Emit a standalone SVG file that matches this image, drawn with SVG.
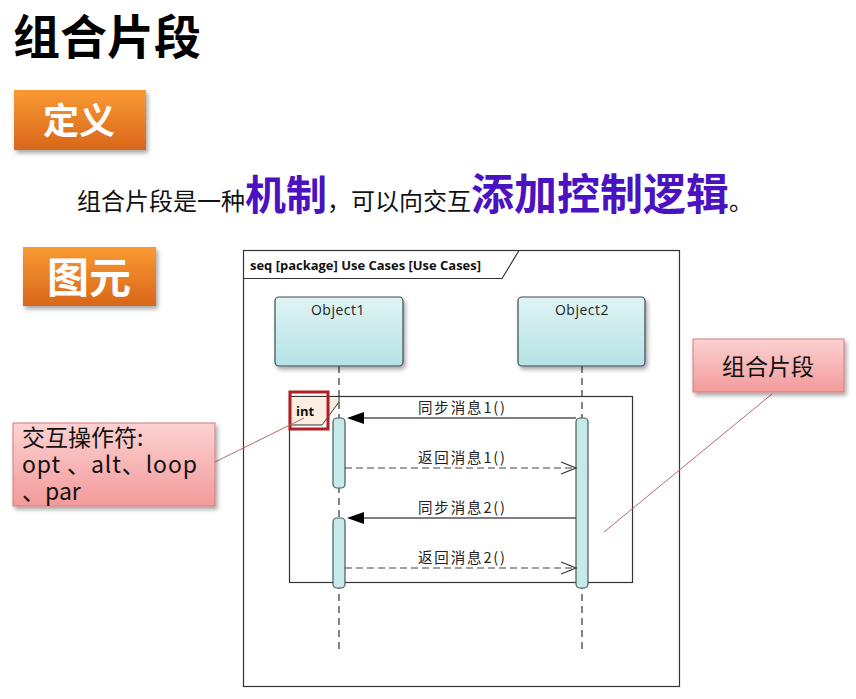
<svg xmlns="http://www.w3.org/2000/svg" width="856" height="699" viewBox="0 0 856 699">
<style>
.cjk{font-family:"Noto Sans CJK SC","Noto Sans",sans-serif}
.lbl{font-family:"Open Sans","Noto Sans CJK SC",sans-serif;font-size:14px;fill:#222;letter-spacing:0.6px}
.msg{font-family:"Noto Sans CJK SC","Open Sans",sans-serif;font-size:14.5px;fill:#222}
.life{stroke:#333;stroke-width:1.2;stroke-dasharray:7,5;fill:none}
.act{fill:#c6e9ea;stroke:#4a5a5a;stroke-width:1.2}
.sync{stroke:#555;stroke-width:1.5;fill:none}
.ret{stroke:#444;stroke-width:1.2;stroke-dasharray:7,4;fill:none}
.obj{fill:url(#gObj);stroke:#3c4a55;stroke-width:1.2}
.call{fill:url(#gPink);stroke:#d87b7b;stroke-width:1}
.lead{stroke:#b56a6a;stroke-width:1;fill:none}
</style>
<defs>
<linearGradient id="gOrange" x1="0" y1="0" x2="0" y2="1">
<stop offset="0" stop-color="#f99a33"/><stop offset="1" stop-color="#d9661b"/>
</linearGradient>
<linearGradient id="gObj" x1="0" y1="0" x2="0" y2="1">
<stop offset="0" stop-color="#e0f4f4"/><stop offset="1" stop-color="#b5e2e5"/>
</linearGradient>
<linearGradient id="gPink" x1="0" y1="0" x2="0" y2="1">
<stop offset="0" stop-color="#fcd2d2"/><stop offset="1" stop-color="#f39a9a"/>
</linearGradient>
<filter id="sh" x="-10%" y="-10%" width="130%" height="140%">
<feDropShadow dx="2" dy="3" stdDeviation="2" flood-color="#000" flood-opacity="0.35"/>
</filter>
<marker id="open" markerWidth="18" markerHeight="14" refX="16" refY="7" orient="auto" markerUnits="userSpaceOnUse">
<path d="M1,1 L16,7 L1,13" fill="none" stroke="#333" stroke-width="1.2"/>
</marker>
</defs>
<rect width="856" height="699" fill="#fff"/>

<g id="title">
<text x="13" y="54" class="cjk" font-size="47" font-weight="bold" fill="#000">组合片段</text>
</g>

<g id="def-badge">
<rect x="14" y="90" width="132" height="60" fill="url(#gOrange)" filter="url(#sh)"/>
<text x="79" y="134" class="cjk" font-size="36" font-weight="bold" fill="#fff" text-anchor="middle">定义</text>
</g>

<g id="definition">
<text y="210" class="cjk" font-size="24" fill="#111"><tspan x="77">组合片段是一种</tspan><tspan font-size="41" font-weight="bold" fill="#4a12c0">机制</tspan><tspan>，可以向交互</tspan><tspan font-size="43" font-weight="bold" fill="#4a12c0">添加控制逻辑</tspan><tspan>。</tspan></text>
</g>

<g id="elem-badge">
<rect x="23" y="247" width="133" height="59" fill="url(#gOrange)" filter="url(#sh)"/>
<text x="89" y="293" class="cjk" font-size="42" font-weight="bold" fill="#fff" text-anchor="middle">图元</text>
</g>

<g id="frame">
<rect x="243.5" y="250.5" width="436" height="436" fill="#fff" stroke="#333" stroke-width="1.2"/>
<path d="M243.5,278.5 H502 L519,250.5" fill="none" stroke="#333" stroke-width="1.2"/>
<text x="250" y="270" font-family="Open Sans,Noto Sans,sans-serif" font-size="12.5" font-weight="bold" fill="#111" textLength="231" lengthAdjust="spacingAndGlyphs">seq [package] Use Cases [Use Cases]</text>
</g>

<g id="lifelines">
<line class="life" x1="339" y1="366" x2="339" y2="654"/>
<line class="life" x1="582" y1="366" x2="582" y2="654"/>
</g>

<g id="object1">
<rect class="obj" x="275" y="297" width="128" height="69" rx="4" filter="url(#sh)"/>
<text class="lbl" x="311" y="315" textLength="54">Object1</text>
</g>
<g id="object2">
<rect class="obj" x="518" y="297" width="127" height="69" rx="4" filter="url(#sh)"/>
<text class="lbl" x="555" y="315" textLength="54">Object2</text>
</g>

<g id="fragment">
<rect x="289.5" y="396.5" width="343" height="186" fill="none" stroke="#333" stroke-width="1.2"/>
<path d="M289.5,396.5 H339 V402 L322,425 H289.5 Z" fill="#fbeee0" stroke="#333" stroke-width="1"/>
<text x="296" y="416" font-family="Open Sans,Noto Sans,sans-serif" font-size="13" font-weight="bold" fill="#111">int</text>
<rect x="290" y="392" width="38" height="37" fill="none" stroke="#b01e22" stroke-width="3"/>
</g>

<g id="activations">
<rect class="act" x="333" y="418" width="12" height="70" rx="4"/>
<rect class="act" x="333" y="518" width="12" height="70" rx="4"/>
<rect class="act" x="576" y="418" width="12" height="170" rx="4"/>
</g>

<g id="connectors">
<line class="sync" x1="576" y1="418" x2="364" y2="418"/>
<path d="M347,418 L364,412 L364,424 Z" fill="#000"/>
<line class="ret" x1="345" y1="468" x2="576" y2="468" marker-end="url(#open)"/>
<line class="sync" x1="576" y1="518" x2="364" y2="518"/>
<path d="M347,518 L364,512 L364,524 Z" fill="#000"/>
<line class="ret" x1="345" y1="568" x2="576" y2="568" marker-end="url(#open)"/>
<text class="msg" x="418" y="413" textLength="87">同步消息1()</text>
<text class="msg" x="418" y="463" textLength="87">返回消息1()</text>
<text class="msg" x="418" y="513" textLength="87">同步消息2()</text>
<text class="msg" x="418" y="563" textLength="87">返回消息2()</text>
<line class="lead" x1="215" y1="462" x2="304" y2="418"/>
<line class="lead" x1="772" y1="394" x2="604" y2="532"/>
</g>

<g id="callout-operator">
<rect class="call" x="13" y="423" width="202" height="83" filter="url(#sh)"/>
<text class="cjk" font-size="23" fill="#111"><tspan x="22" y="446">交互操作符:</tspan><tspan x="22" y="473" textLength="175">opt 、alt、loop</tspan><tspan x="22" y="500">、par</tspan></text>
</g>

<g id="callout-fragment">
<rect class="call" x="693" y="339" width="151" height="53" filter="url(#sh)"/>
<text class="cjk" x="768" y="375" font-size="23" fill="#111" text-anchor="middle">组合片段</text>
</g>
</svg>
